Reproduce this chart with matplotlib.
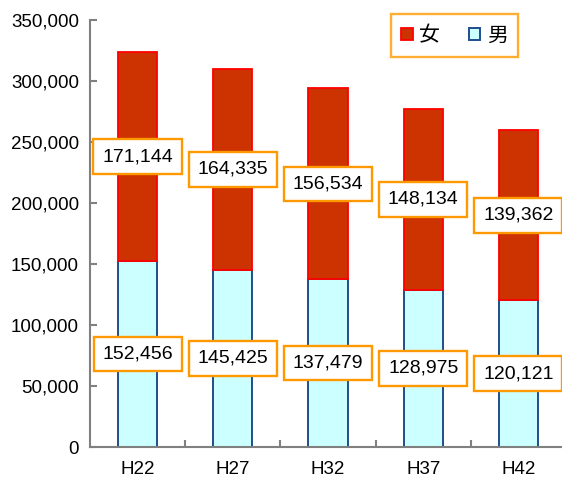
import matplotlib
matplotlib.use("Agg")
import matplotlib.pyplot as plt
import matplotlib.ticker as mticker
import numpy as np

plt.rcParams['font.family'] = ['Liberation Sans', 'Noto Sans CJK JP', 'DejaVu Sans']

# data
years = ['H22', 'H27', 'H32', 'H37', 'H42']
male = [152456, 145425, 137479, 128975, 120121]
female = [171144, 164335, 156534, 148134, 139362]

fig = plt.figure(figsize=(5.62, 4.79), dpi=100)
ax = fig.add_axes([90 / 562, 32 / 479, 476 / 562, 427 / 479])

x = np.arange(len(years))
w = 0.41
ax.bar(x, male, w, color='#CCFFFF', edgecolor='#1F4E8C', linewidth=1.4, label='男', zorder=2)
ax.bar(x, female, w, bottom=male, color='#CC3300', edgecolor='#FF0000', linewidth=1.3, label='女', zorder=2)

box = dict(boxstyle='square,pad=0.45', facecolor='white', edgecolor='#FF9900', linewidth=1.7)
for i in range(len(years)):
    ax.text(x[i], male[i] / 2, f"{male[i]:,}", ha='center', va='center',
            fontsize=14, bbox=box, zorder=3)
    ax.text(x[i], male[i] + female[i] / 2, f"{female[i]:,}", ha='center', va='center',
            fontsize=14, bbox=box, zorder=3)

ax.set_xlim(-0.5, len(years) - 0.5)
ax.set_ylim(0, 350000)
ax.yaxis.set_major_locator(mticker.MultipleLocator(50000))
ax.yaxis.set_major_formatter(mticker.StrMethodFormatter('{x:,.0f}'))
ax.set_xticks(x)
ax.set_xticklabels(years)
ax.set_xticks(np.arange(0.5, len(years) - 0.5), minor=True)

for s in ['top', 'right']:
    ax.spines[s].set_visible(False)
for s in ['left', 'bottom']:
    ax.spines[s].set_color('#808080')
    ax.spines[s].set_linewidth(1.5)

ax.tick_params(axis='y', direction='in', length=5, width=1.5, color='#808080',
               labelsize=13.5, pad=8)
ax.tick_params(axis='x', which='major', length=0, labelsize=13.5, pad=10)
ax.tick_params(axis='x', which='minor', direction='in', length=5, width=1.5, color='#808080')

handles, labels = ax.get_legend_handles_labels()
leg = ax.legend(handles[::-1], labels[::-1], loc='upper right',
                bbox_to_anchor=(518 / 562, 1 - 14 / 479), bbox_transform=fig.transFigure,
                ncol=2, fontsize=15, frameon=True, fancybox=False, borderaxespad=0,
                handlelength=0.55, handleheight=0.55, handletextpad=0.3, columnspacing=1.4,
                borderpad=0.5)
leg.get_frame().set_edgecolor('#FF9900')
leg.get_frame().set_linewidth(1.7)
for t in leg.get_texts():
    t.set_family(['Noto Sans CJK JP', 'DejaVu Sans'])

fig.savefig('out.png', dpi=100)
